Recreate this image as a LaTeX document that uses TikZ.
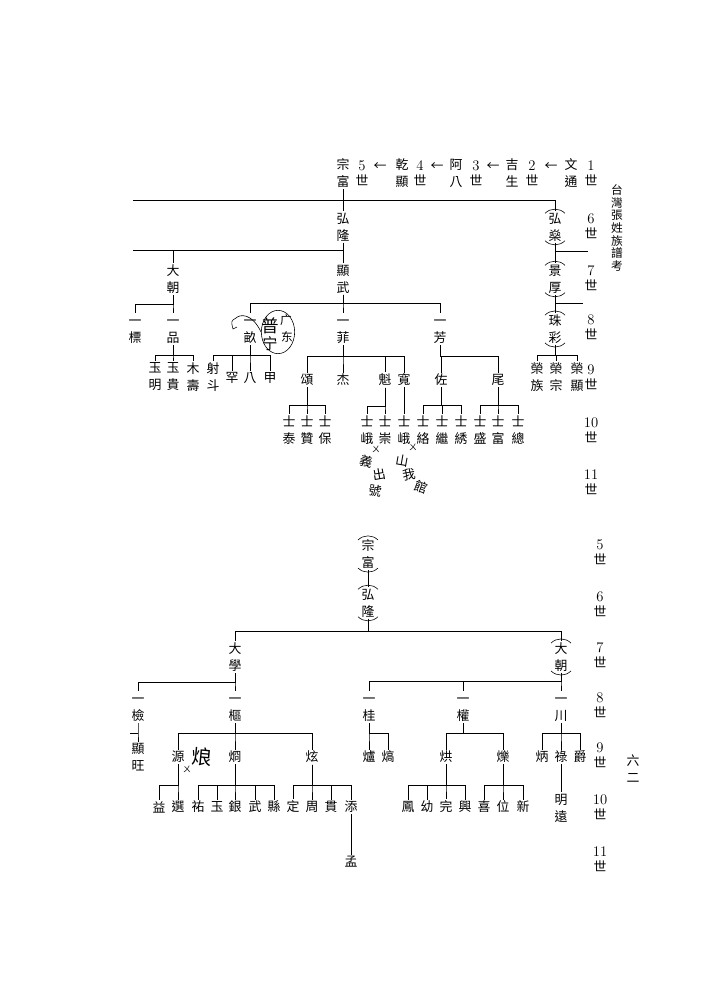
\documentclass[tikz,border=0pt]{standalone}
\usepackage{fontspec}
\newfontfamily\cjk{Noto Sans CJK TC}
\usetikzlibrary{shapes.geometric}
\newcommand\cjkstrut{\rule[-0.12em]{0pt}{1em}}
\tikzset{
	nm/.style={font=\cjk\fontsize{11}{14.5}\selectfont, align=center, inner sep=1pt},
	gen/.style={font=\fontsize{12.5}{13}\selectfont, align=center, inner sep=0pt},
	hand/.style={font=\cjk\fontsize{11}{12}\selectfont, inner sep=0pt},
}
\begin{document}
\begin{tikzpicture}[x=0.3mm, y=-0.3mm, line width=0.6pt]
		\useasboundingbox (0,0) rectangle (710,1000);
		%\draw[help lines, step=50] (0,0) grid (710,1000);
		
		\foreach \n/\x/\s in {zf/343/宗\\富, qx/402/乾\\顯, ab/456/阿\\八,
			js/512/吉\\生, wt/571/文\\通}
		\node[nm] (\n) at (\x,173) {\s};
		\foreach \g/\x in {5/362, 4/420, 3/476, 2/532, 1/591}
		\node[gen] (h\g) at (\x,173) {\g\\{\cjk\fontsize{11}{13}\selectfont 世}};
		\foreach \n/\x in {1/380, 2/437, 3/493, 4/551}
		\node[nm] (ar\n) at (\x,167) {←};
		\node[nm, font=\cjk\fontsize{10}{10.8}\selectfont] (title) at (617,228)
		{台\\灣\\張\\姓\\族\\譜\\考};
		
		\foreach \g/\y in {6/226, 7/278, 8/327, 9/377, 10/430, 11/482}
		\node[gen] (ga\g) at (591,\y) {\g\\{\cjk\fontsize{11}{13}\selectfont 世}};
		\foreach \g/\y in {5/552, 6/604, 7/655, 8/705, 9/755, 10/807, 11/859}
		\node[gen] (gb\g) at (600,\y) {\g\\{\cjk\fontsize{11}{13}\selectfont 世}};
		
		% upper tree
		\node[nm] (hl) at (343,227) {弘\\隆};
		\node[nm] (hs) at (555,227) {弘\\燊};
		\node[nm] (dc) at (173,279) {大\\朝};
		\node[nm] (xw) at (343,279) {顯\\武};
		\node[nm] (jh) at (555,279) {景\\厚};
		\node[nm] (zc) at (555,329) {珠\\彩};
		\foreach \n/\x/\s in {yb/135/標, yp/173/品, mu/250/畝, fei/343/菲, fang/440/芳}
		\node[nm] (\n) at (\x,329) {\cjkstrut 一\\\s\cjkstrut};
		\foreach \n/\x/\s in {yming/155/玉\\明, ygui/173/玉\\貴, mshou/193/木\\壽,
			sd/213/射\\斗, rzu/537/榮\\族, rzong/556/榮\\宗, rxian/577/榮\\顯}
		\node[nm] (\n) at (\x,377) {\s};
		\foreach \n/\x/\s in {han/232/罕, ba/250/八, jia/270/甲}
		\node[nm] (\n) at (\x,378) {\s};
		\foreach \n/\x/\s in {song/307/頌, jie/343/杰, kui/385/魁, kuan/404/寬,
			zuo/441/佐, wei/498/尾}
		\node[nm] (\n) at (\x,380) {\s};
		\foreach \n/\x/\s in {tai/289/泰, zan/307/贊, bao/325/保, e1/367/峨, chong/385/崇,
			e2/404/峨, luo/423/絡, ji/442/繼, xiu/461/綉, sheng/480/盛, fu/498/富, zong/518/總}
		\node[nm] (\n) at (\x,430) {士\\\s};
		
		% lower tree
		\node[nm] (zf2) at (368,554) {宗\\富};
		\node[nm] (hl2) at (368,603) {弘\\隆};
		\node[nm] (dx) at (235,657) {大\\學};
		\node[nm] (dc2) at (561,657) {大\\朝};
		\foreach \n/\x/\s in {jian/138/檢, shu/235/樞, gui/369/桂, quan/463/權, chuan/561/川}
		\node[nm] (\n) at (\x,707) {\cjkstrut 一\\\s\cjkstrut};
		\node[nm] (xwang) at (138,757) {顯\\旺};
		\foreach \n/\x/\s in {yuan/178/源, jiong/235/烱, xuan/312/炫, lu1/369/爐, he/388/熇,
			hong/446/烘, shuo/503/爍, bing/542/炳, lu/561/祿, jue/580/爵}
		\node[nm] (\n) at (\x,757) {\s};
		\foreach \n/\x/\s in {yi/159/益, xuan2/178/選, you/198/祐, yu/217/玉, yin/235/銀,
			wu/255/武, xian/274/縣, ding/293/定, zhou/312/周, guan/331/貫, tian/351/添,
			feng/408/鳳, you2/427/幼, wan/446/完, xing/465/興, xi/484/喜, wei2/503/位, xin/523/新}
		\node[nm] (\n) at (\x,807) {\s};
		\node[nm] (mingyuan) at (561,808) {明\\遠};
		\node[nm] (meng) at (351,862) {孟};
		
		\node[nm] (page) at (633,769) {六\\二};
		
		% families
		\foreach \p/\y/\cs in {dc/304/{yb,yp}, yp/355/{yming,ygui,mshou},
			xw/303/{mu,fei,fang}, mu/355/{sd,han,ba,jia}, fei/356/{song,jie,kui,kuan},
			fang/356/{zuo,wei}, song/405/{tai,zan,bao}, kui/406/{e1,chong},
			zuo/405/{luo,ji,xiu}, wei/405/{sheng,fu,zong}, zc/355/{rzu,rzong,rxian},
			hl2/631/{dx,dc2}, dx/682/{jian,shu}, dc2/681/{gui,quan,chuan},
			jian/733/{xwang}, shu/733/{yuan,jiong,xuan}, yuan/785/{yi,xuan2},
			jiong/785/{you,yu,yin,wu,xian}, xuan/785/{ding,zhou,guan,tian},
			gui/733/{lu1,he}, quan/733/{hong,shuo}, hong/785/{feng,you2,wan,xing},
			shuo/785/{xi,wei2,xin}, chuan/733/{bing,lu,jue}}
		\foreach \c in \cs
		\draw (\p) -- (\p |- 0,\y) -| (\c);
		
		\foreach \n\m in {zf/hl, hl/xw, hs/jh, jh/zc, kuan/e2, zf2/hl2, tian/meng, lu/mingyuan}
		\draw (\n) -- (\m);
		
		\coordinate (l1) at (133,200);
		\coordinate (l2) at (133,250);
		\coordinate (s1) at (588,251);
		\coordinate (s2) at (583,303);
		\coordinate (s3) at (130,733);
		\draw (l1) -- (hs |- l1) -- (hs);
		\draw (l2) -- (hl |- l2);
		\draw (dc |- l2) -- (dc);
		\draw (hs |- s1) -- (s1);
		\draw (jh |- s2) -- (s2);
		\draw (s3) -- (jian |- s3);
		
		% marked names
		\foreach \n in {hs, jh, zc, zf2, hl2, dc2} {
			\draw[line width=0.5pt] ([shift={(-2,2)}]\n.north west) to[bend left=45] ([shift={(2,2)}]\n.north east);
			\draw[line width=0.5pt] ([shift={(-2,-2)}]\n.south west) to[bend right=45] ([shift={(2,-2)}]\n.south east);
		}
		
		% handwriting
		\node[draw, ellipse, line width=0.5pt, minimum width=10mm, minimum height=13mm,
		inner sep=0pt] (note) at (278,332) {};
		\node[hand, font=\cjk\fontsize{15}{16}\selectfont] (pu) at (270,326) {普};
		\node[hand, font=\cjk\fontsize{13}{14}\selectfont] (ning) at (270,344) {宁};
		\node[hand, font=\cjk\fontsize{10}{11}\selectfont] (guang) at (286,320) {广};
		\node[hand, font=\cjk\fontsize{10}{11}\selectfont] (dong) at (287,337) {东};
		\draw[line width=0.5pt] (note.west) .. controls (252,313) and (240,314) .. (236,318)
		.. controls (231,321) .. (233,329) -- (237,327);
		\foreach \n/\x/\y/\s/\r in {yi1/366/461/義/-15, chu/379/475/出/10,
			hao/375/491/號/-10, shan/402/461/山/-10, wo/409/475/我/10, guan2/421/487/館/-20}
		\node[hand, rotate=\r] (\n) at (\x,\y) {\s};
		\foreach \n/\x/\y in {x1/376/449, x2/413/447, x3/187/769}
		\node[hand, font=\cjk\fontsize{7}{8}\selectfont] (\n) at (\x,\y) {ㄨ};
		\node[hand, font=\cjk\fontsize{17}{18}\selectfont, rotate=-5] (lang) at (202,757) {烺};
		
	\end{tikzpicture}
\end{document}
